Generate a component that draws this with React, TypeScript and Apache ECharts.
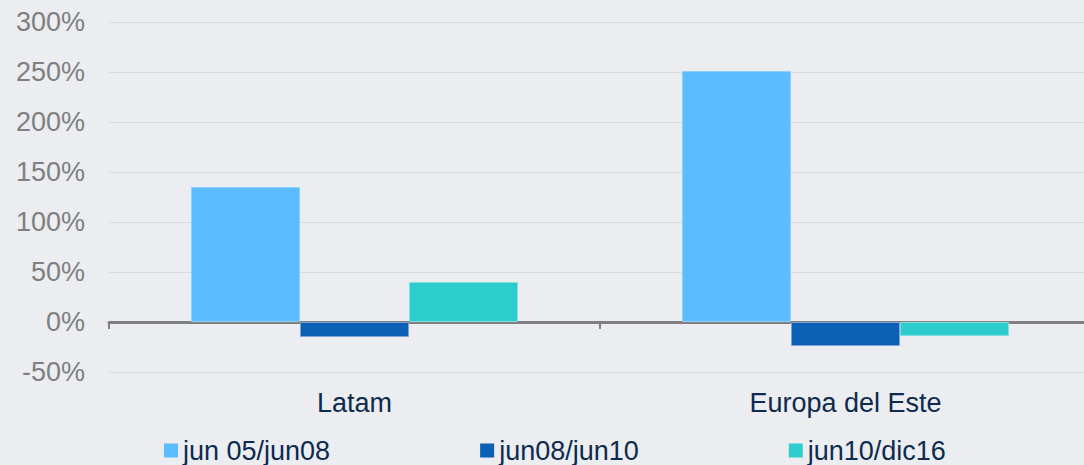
import React, { useEffect, useRef } from "react";
import * as echarts from "echarts";

const categories = ["Latam", "Europa del Este"];
const seriesNames = ["jun 05/jun08", "jun08/jun10", "jun10/dic16"];
const jun05jun08 = [135, 251];
const jun08jun10 = [-15, -24];
const jun10dic16 = [40, -14];
const colors = ["#5bbdff", "#0b5fb4", "#2ecdcd"];
const borderColors = ["#8fd0fb", "#7aa6d6", "#86dde0"];

export default function App() {
  const ref = useRef<HTMLDivElement>(null);
  useEffect(() => {
    if (!ref.current) return;
    const chart = echarts.init(ref.current, undefined, { renderer: "svg" });
    const values = [jun05jun08, jun08jun10, jun10dic16];
    chart.setOption({
      animation: false,
      backgroundColor: "#ebedf0",
      textStyle: { fontFamily: "Liberation Sans, Arial, sans-serif" },
      grid: { left: 109, width: 982, top: 22, bottom: 93, outerBoundsMode: "none", containLabel: false },
      legend: {
        data: seriesNames,
        left: 159,
        top: 432,
        itemWidth: 14,
        itemHeight: 14,
        itemGap: 150,
        icon: "rect",
        itemStyle: { borderWidth: 0 },
        textStyle: { fontSize: 27, color: "#0d2a4f" },
      },
      xAxis: {
        type: "category",
        data: categories,
        axisLine: { onZero: true, lineStyle: { color: "#808080", width: 3 } },
        axisTick: { show: true, length: 7, lineStyle: { color: "#808080", width: 2 } },
        axisLabel: { margin: 17, fontSize: 27, color: "#0d2a4f" },
      },
      yAxis: {
        type: "value",
        min: -50,
        max: 300,
        interval: 50,
        axisLine: { show: false },
        axisTick: { show: false },
        axisLabel: { formatter: "{value}%", fontSize: 27, color: "#7f7f7f", margin: 24 },
        splitLine: { lineStyle: { color: "#d8d9dc", width: 1 } },
      },
      series: seriesNames.map((name, i) => ({
        name,
        type: "bar",
        data: values[i],
        barGap: "0%",
        barCategoryGap: "33.4%",
        itemStyle: { color: colors[i], borderColor: borderColors[i], borderWidth: 1 },
      })),
    });
    return () => chart.dispose();
  }, []);
  return (
    <div
      ref={ref}
      style={{ position: "absolute", left: 0, top: 0, width: 1084, height: 465 }}
    />
  );
}
